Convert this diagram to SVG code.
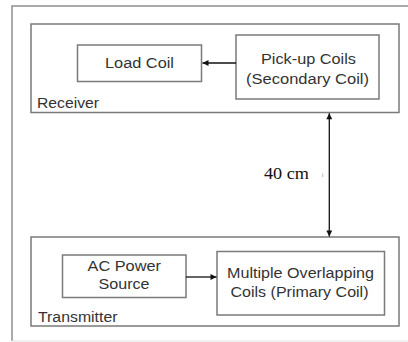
<svg xmlns="http://www.w3.org/2000/svg" width="408" height="342" viewBox="0 0 408 342">
<style>
.box{fill:#fff;stroke:#7a7a7a;stroke-width:1.5}
.t{font-family:"Liberation Sans",Arial,sans-serif;font-size:14px;fill:#333}
.c{stroke:#111;stroke-width:1.3;fill:none}
</style>
<defs>
<marker id="ah" viewBox="0 0 10 10" refX="10" refY="5" markerWidth="8" markerHeight="6" markerUnits="userSpaceOnUse" orient="auto-start-reverse">
<path d="M0,0L10,5L0,10z" fill="#111"/>
</marker>
</defs>
<rect width="408" height="342" fill="#fff"/>
<g id="frame">
<path d="M12,341V6H410" fill="none" stroke="#8f8f8f" stroke-width="1.5"/>
<path d="M12,341H410" fill="none" stroke="#e2e2e2" stroke-width="1"/>
</g>
<g id="receiver">
<rect class="box" x="31" y="24" width="368" height="88.5"/>
<text class="t" x="37" y="108" textLength="62" lengthAdjust="spacingAndGlyphs">Receiver</text>
</g>
<g id="load-coil">
<rect class="box" x="77.5" y="45" width="124" height="36.5"/>
<text class="t" x="105" y="67.5" textLength="69" lengthAdjust="spacingAndGlyphs">Load Coil</text>
</g>
<g id="pickup-coils">
<rect class="box" x="236" y="35" width="143" height="64"/>
<text class="t" x="261" y="63.5" textLength="95" lengthAdjust="spacingAndGlyphs">Pick-up Coils</text>
<text class="t" x="246" y="83.5" textLength="123" lengthAdjust="spacingAndGlyphs">(Secondary Coil)</text>
</g>
<g id="transmitter">
<rect class="box" x="31" y="237" width="368" height="89"/>
<text class="t" x="38" y="321.5" textLength="79.5" lengthAdjust="spacingAndGlyphs">Transmitter</text>
</g>
<g id="ac-power">
<rect class="box" x="62.5" y="255" width="123.5" height="42.5"/>
<text class="t" x="87.5" y="270.7" textLength="73.5" lengthAdjust="spacingAndGlyphs">AC Power</text>
<text class="t" x="98.5" y="289.3" textLength="51" lengthAdjust="spacingAndGlyphs">Source</text>
</g>
<g id="primary-coils">
<rect class="box" x="217" y="251.5" width="167.5" height="63.5"/>
<text class="t" x="227" y="278.3" textLength="147" lengthAdjust="spacingAndGlyphs">Multiple Overlapping</text>
<text class="t" x="230.5" y="296.7" textLength="138" lengthAdjust="spacingAndGlyphs">Coils (Primary Coil)</text>
</g>
<g id="connectors">
<line class="c" x1="236" y1="63" x2="202.5" y2="63" marker-end="url(#ah)"/>
<line class="c" x1="186" y1="277" x2="216.5" y2="277" marker-end="url(#ah)"/>
<line class="c" x1="329.3" y1="113.3" x2="329.3" y2="236.5" marker-start="url(#ah)" marker-end="url(#ah)"/>
<line x1="322.7" y1="173.5" x2="322.7" y2="177" stroke="#bbb" stroke-width="1"/>
<text x="264" y="179" font-family="'Liberation Serif','Times New Roman',serif" font-size="17" fill="#111" textLength="45" lengthAdjust="spacingAndGlyphs">40 cm</text>
</g>
</svg>
